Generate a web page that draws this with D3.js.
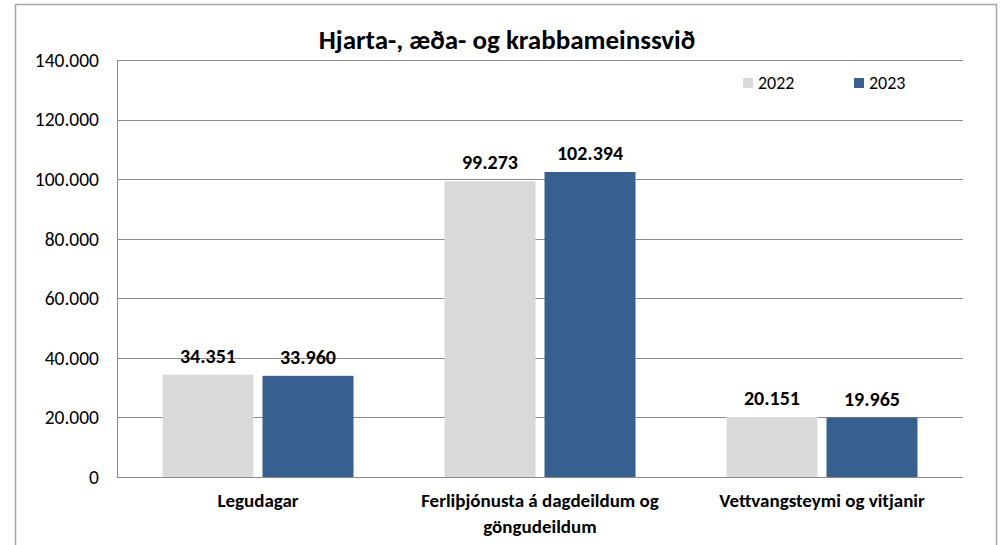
<!DOCTYPE html>
<html>
<head>
<meta charset="utf-8">
<script src="https://cdn.jsdelivr.net/npm/d3@7"></script>
<style>
  body { margin: 0; background: #fff; }
  svg { display: block; font-family: Carlito, Calibri, Lato, sans-serif; }
</style>
</head>
<body>
<svg id="chart" width="1004" height="545"></svg>
<script>
// data
const categories = ['Legudagar', 'Ferliþjónusta á dagdeildum og göngudeildum', 'Vettvangsteymi og vitjanir']
const series = ['2022', '2023']
const values2022 = [34351, 99273, 20151]
const values2023 = [33960, 102394, 19965]
const yTicks = [0, 20000, 40000, 60000, 80000, 100000, 120000, 140000]
const title = 'Hjarta-, æða- og krabbameinssvið'

const colors = { '2022': '#d9d9d9', '2023': '#375f8f' }
const gridColor = '#8c8c8c'

const is = d3.formatLocale({ decimal: ',', thousands: '.', grouping: [3], currency: ['', ' kr'] })
const fmt = is.format(',')

const svg = d3.select('#chart')

// outer frame (bottom edge runs off the page like in the source)
svg.append('rect')
  .attr('x', 15.5).attr('y', 4.5)
  .attr('width', 981).attr('height', 600)
  .attr('fill', '#fff')
  .attr('stroke', '#a6a6a6')
  .attr('stroke-width', 1.5)

const plot = { left: 117, right: 963, top: 60, bottom: 477 }

const y = d3.scaleLinear().domain([0, 140000]).range([plot.bottom, plot.top])
const x0 = d3.scaleBand().domain(categories).range([plot.left, plot.right]).padding(0)
const x1 = d3.scaleBand().domain(series).range([45.5, x0.bandwidth() - 45.5]).paddingInner(0.09)

// gridlines
svg.append('g')
  .selectAll('line')
  .data(yTicks)
  .join('line')
  .attr('x1', plot.left).attr('x2', plot.right)
  .attr('y1', d => Math.round(y(d)) + 0.5)
  .attr('y2', d => Math.round(y(d)) + 0.5)
  .attr('stroke', gridColor)
  .attr('stroke-width', 1)

svg.append('line')
  .attr('x1', plot.left + 0.5).attr('x2', plot.left + 0.5)
  .attr('y1', plot.top).attr('y2', plot.bottom + 1)
  .attr('stroke', gridColor)

// y labels
svg.append('g')
  .selectAll('text')
  .data(yTicks)
  .join('text')
  .attr('x', 99)
  .attr('y', d => y(d))
  .attr('dy', '0.35em')
  .attr('text-anchor', 'end')
  .attr('font-size', 19.5)
  .attr('fill', '#000')
  .text(d => fmt(d))

const rows = categories.map((c, i) => ({ cat: c, vals: [
  { key: '2022', value: values2022[i] },
  { key: '2023', value: values2023[i] }
]}))

const groups = svg.append('g')
  .selectAll('g')
  .data(rows)
  .join('g')
  .attr('transform', d => `translate(${x0(d.cat)},0)`)

groups.selectAll('rect')
  .data(d => d.vals)
  .join('rect')
  .attr('x', d => x1(d.key))
  .attr('width', x1.bandwidth())
  .attr('y', d => y(d.value))
  .attr('height', d => plot.bottom - y(d.value))
  .attr('fill', d => colors[d.key])

groups.selectAll('text.val')
  .data(d => d.vals)
  .join('text')
  .attr('class', 'val')
  .attr('x', d => x1(d.key) + x1.bandwidth() / 2)
  .attr('y', d => y(d.value) - 12)
  .attr('text-anchor', 'middle')
  .attr('font-size', 20)
  .attr('font-weight', 'bold')
  .text(d => fmt(d.value))

// category labels, wrapped like the source
const catLines = {
  'Legudagar': ['Legudagar'],
  'Ferliþjónusta á dagdeildum og göngudeildum': ['Ferliþjónusta á dagdeildum og', 'göngudeildum'],
  'Vettvangsteymi og vitjanir': ['Vettvangsteymi og vitjanir']
}
svg.append('g')
  .selectAll('text')
  .data(categories)
  .join('text')
  .attr('x', d => x0(d) + x0.bandwidth() / 2)
  .attr('y', 507)
  .attr('text-anchor', 'middle')
  .attr('font-size', 19)
  .attr('font-weight', 'bold')
  .each(function(d) {
    d3.select(this).selectAll('tspan')
      .data(catLines[d])
      .join('tspan')
      .attr('x', x0(d) + x0.bandwidth() / 2)
      .attr('dy', (l, i) => i === 0 ? 0 : 26)
      .text(l => l)
  })

// title
svg.append('text')
  .attr('x', 507).attr('y', 49)
  .attr('text-anchor', 'middle')
  .attr('font-size', 27)
  .attr('font-weight', 'bold')
  .text(title)

// legend
const legendX = [743, 854]
const legend = svg.append('g')
  .selectAll('g')
  .data(series)
  .join('g')
  .attr('transform', (d, i) => `translate(${legendX[i]},83)`)
legend.append('rect')
  .attr('x', 0).attr('y', -5)
  .attr('width', 10).attr('height', 10)
  .attr('fill', d => colors[d])
legend.append('text')
  .attr('x', 15).attr('y', 0)
  .attr('dy', '0.35em')
  .attr('font-size', 18)
  .text(d => d)
</script>
</body>
</html>
